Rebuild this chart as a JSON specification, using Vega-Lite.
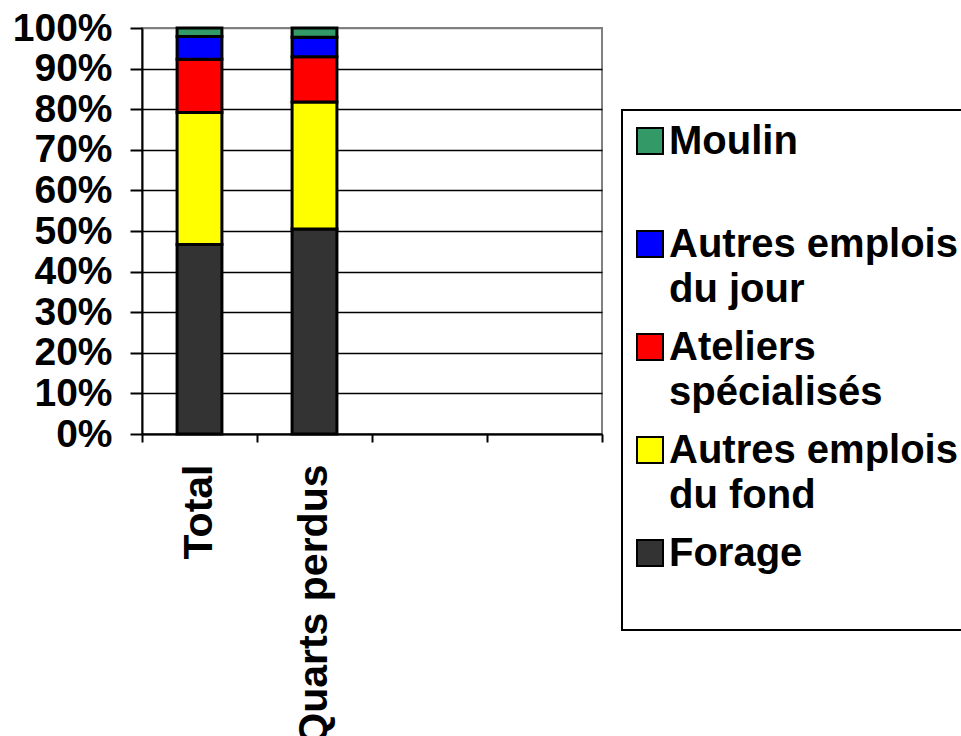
{
  "$schema": "https://vega.github.io/schema/vega-lite/v6.json",
  "width": 460,
  "height": 406,
  "autosize": {"type": "none"},
  "padding": {"left": 142, "top": 28, "right": 359, "bottom": 302},
  "background": "white",
  "config": {"view": {"stroke": "#808080", "strokeWidth": 2}, "font": "Liberation Sans"},
  "data": {"values": [
    {"cat": "Total", "type": "Forage", "rank": 1, "pct": 46.7},
    {"cat": "Total", "type": "Autres emplois du fond", "rank": 2, "pct": 32.5},
    {"cat": "Total", "type": "Ateliers spécialisés", "rank": 3, "pct": 13.1},
    {"cat": "Total", "type": "Autres emplois du jour", "rank": 4, "pct": 5.6},
    {"cat": "Total", "type": "Moulin", "rank": 5, "pct": 2.1},
    {"cat": "Quarts perdus", "type": "Forage", "rank": 1, "pct": 50.5},
    {"cat": "Quarts perdus", "type": "Autres emplois du fond", "rank": 2, "pct": 31.3},
    {"cat": "Quarts perdus", "type": "Ateliers spécialisés", "rank": 3, "pct": 11.1},
    {"cat": "Quarts perdus", "type": "Autres emplois du jour", "rank": 4, "pct": 4.8},
    {"cat": "Quarts perdus", "type": "Moulin", "rank": 5, "pct": 2.3}
  ]},
  "mark": {"type": "bar", "width": {"band": 0.39}, "stroke": "black", "strokeWidth": 3},
  "encoding": {
    "x": {
      "field": "cat", "type": "nominal", "sort": null,
      "scale": {"domain": ["Total", "Quarts perdus", " ", "  "], "paddingInner": 0, "paddingOuter": 0},
      "axis": {
        "title": null, "labelAngle": -90, "labelAlign": "right", "labelBaseline": "middle",
        "labelFont": "Liberation Sans", "labelFontSize": 41, "labelFontWeight": "bold", "labelColor": "black",
        "tickBand": "extent", "tickSize": 8, "tickColor": "black", "tickWidth": 2,
        "domainColor": "black", "domainWidth": 2, "labelPadding": 22, "grid": false, "labelLimit": 0
      }
    },
    "y": {
      "field": "pct", "type": "quantitative", "stack": "normalize",
      "scale": {"domain": [0, 1]},
      "axis": {
        "title": null, "values": [0, 0.1, 0.2, 0.3, 0.4, 0.5, 0.6, 0.7, 0.8, 0.9, 1],
        "format": ".0%", "labelFont": "Liberation Sans", "labelFontSize": 39, "labelFontWeight": "bold",
        "labelColor": "black", "labelPadding": 18, "labelFlush": false, "labelOverlap": false,
        "tickSize": 12, "tickColor": "black", "tickWidth": 2,
        "domainColor": "black", "domainWidth": 2,
        "grid": true, "gridWidth": 1.5,
        "gridColor": {"condition": {"test": "datum.value >= 1", "value": "#808080"}, "value": "black"}
      }
    },
    "order": {"field": "rank", "type": "quantitative", "sort": "ascending"},
    "color": {
      "field": "type", "type": "nominal",
      "scale": {
        "domain": ["Moulin", "Autres emplois du jour", "Ateliers spécialisés", "Autres emplois du fond", "Forage"],
        "range": ["#339966", "#0000FF", "#FF0000", "#FFFF00", "#333333"]
      },
      "legend": {
        "orient": "none", "legendX": 480, "legendY": 82, "title": null,
        "strokeColor": "black", "padding": 11,
        "symbolType": "square", "symbolSize": 676, "symbolStrokeColor": "black", "symbolStrokeWidth": 2,
        "symbolOffset": -3,
        "labelFont": "Liberation Sans", "labelFontSize": 40, "labelFontWeight": "bold", "labelColor": "black",
        "labelOffset": -1, "labelLimit": 0, "rowPadding": 17, "labelBaseline": "alphabetic",
        "labelExpr": "datum.label == 'Moulin' ? ['Moulin', ''] : datum.label == 'Autres emplois du jour' ? ['Autres emplois', 'du jour'] : datum.label == 'Ateliers spécialisés' ? ['Ateliers', 'spécialisés'] : datum.label == 'Autres emplois du fond' ? ['Autres emplois', 'du fond'] : ['Forage', '']",
        "encode": {
          "labels": {"update": {"dy": {"value": 13}, "lineHeight": {"value": 45}}},
          "legend": {"update": {"strokeWidth": {"value": 2}}}
        }
      }
    }
  }
}
